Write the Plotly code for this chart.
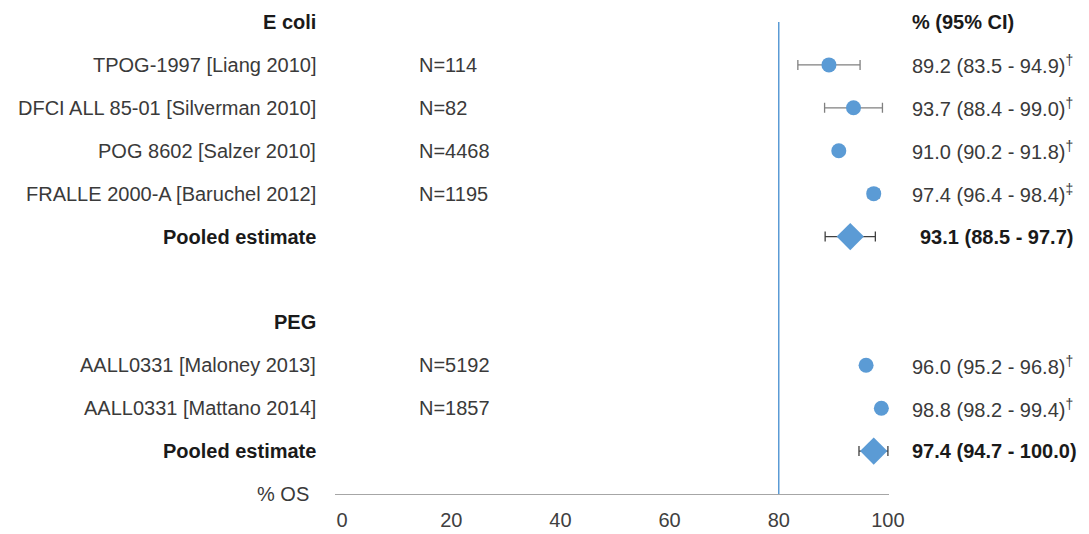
import plotly.graph_objects as go

# ---- data ----
groups = ["E coli", "PEG"]
studies = ["TPOG-1997 [Liang 2010]", "DFCI ALL 85-01 [Silverman 2010]",
           "POG 8602 [Salzer 2010]", "FRALLE 2000-A [Baruchel 2012]",
           "AALL0331 [Maloney 2013]", "AALL0331 [Mattano 2014]"]
study_group = [0, 0, 0, 0, 1, 1]
n_patients = [114, 82, 4468, 1195, 5192, 1857]
est = [89.2, 93.7, 91.0, 97.4, 96.0, 98.8]
lo = [83.5, 88.4, 90.2, 96.4, 95.2, 98.2]
hi = [94.9, 99.0, 91.8, 98.4, 96.8, 99.4]
marks = ["†", "†", "†", "‡", "†", "†"]
pooled_est = [93.1, 97.4]
pooled_lo = [88.5, 94.7]
pooled_hi = [97.7, 100.0]
ref_value = 80
x_ticks = [0, 20, 40, 60, 80, 100]
axis_title = "% OS"
ci_header = "% (95% CI)"
pooled_label = "Pooled estimate"

# ---- layout of rows ----
header_rows, study_rows, pooled_rows = [], [], []
r = 0
for g in range(len(groups)):
    header_rows.append(r)
    r += 1
    for i, sg in enumerate(study_group):
        if sg == g:
            study_rows.append(r)
            r += 1
    pooled_rows.append(r)
    r += 2
axis_row = r - 1

BLUE = "#5b9bd5"
FONT = "Liberation Sans"
TXT = "#3a3a3a"
BOLD = "#1a1a1a"
FS = 20

fig = go.Figure()

fig.add_trace(go.Scatter(
    x=est, y=study_rows, mode="markers",
    marker=dict(color=BLUE, size=15, symbol="circle"),
    error_x=dict(type="data", symmetric=False,
                 array=[h - e for h, e in zip(hi, est)],
                 arrayminus=[e - l for e, l in zip(est, lo)],
                 color="#808080", thickness=1.3, width=5),
    cliponaxis=False, showlegend=False, hoverinfo="skip"))

fig.add_trace(go.Scatter(
    x=pooled_est, y=pooled_rows, mode="markers",
    marker=dict(color=BLUE, size=21, symbol="diamond"),
    error_x=dict(type="data", symmetric=False,
                 array=[h - e for h, e in zip(pooled_hi, pooled_est)],
                 arrayminus=[e - l for e, l in zip(pooled_est, pooled_lo)],
                 color="#404040", thickness=1.3, width=5),
    cliponaxis=False, showlegend=False, hoverinfo="skip"))

fig.add_shape(type="line", x0=ref_value, x1=ref_value, y0=0, y1=axis_row,
              xref="x", yref="y", line=dict(color=BLUE, width=1.5), layer="below")

ann = []
LX = (318 - 335) / 554
NX = (417 - 335) / 554
VX = (910 - 335) / 554

for g, hr in zip(groups, header_rows):
    ann.append(dict(x=LX, y=hr, xref="paper", yref="y", text=f"<b>{g}</b>",
                    xanchor="right", showarrow=False, font=dict(color=BOLD)))
ann.append(dict(x=VX, y=header_rows[0], xref="paper", yref="y", text=f"<b>{ci_header}</b>",
                xanchor="left", showarrow=False, font=dict(color=BOLD)))

for s, yr, nn, e, l, h, m in zip(studies, study_rows, n_patients, est, lo, hi, marks):
    ann.append(dict(x=LX, y=yr, xref="paper", yref="y", text=s,
                    xanchor="right", showarrow=False, font=dict(color=TXT)))
    ann.append(dict(x=NX, y=yr, xref="paper", yref="y", text=f"N={nn}",
                    xanchor="left", showarrow=False, font=dict(color=TXT)))
    ann.append(dict(x=VX, y=yr, xref="paper", yref="y",
                    text=f"{e:.1f} ({l:.1f} - {h:.1f})<sup>{m}</sup>",
                    xanchor="left", showarrow=False, font=dict(color=TXT)))

PX = [(918 - 335) / 554, (910 - 335) / 554]
for yr, e, l, h, px in zip(pooled_rows, pooled_est, pooled_lo, pooled_hi, PX):
    ann.append(dict(x=LX, y=yr, xref="paper", yref="y", text=f"<b>{pooled_label}</b>",
                    xanchor="right", showarrow=False, font=dict(color=BOLD)))
    ann.append(dict(x=px, y=yr, xref="paper", yref="y",
                    text=f"<b>{e:.1f} ({l:.1f} - {h:.1f})</b>",
                    xanchor="left", showarrow=False, font=dict(color=BOLD)))

ann.append(dict(x=(311 - 335) / 554, y=axis_row, xref="paper", yref="y", text=axis_title,
                xanchor="right", showarrow=False, font=dict(color=TXT)))

fig.update_layout(
    width=1089, height=534,
    margin=dict(l=335, r=200, t=22, b=40, autoexpand=False),
    paper_bgcolor="white", plot_bgcolor="white",
    font=dict(family=FONT, size=FS, color=TXT),
    annotations=ann,
    xaxis=dict(range=[-1.3, 100.2], tickvals=x_ticks, showgrid=False, zeroline=False,
               showline=True, linecolor="#a6a6a6", linewidth=1.2, ticks="",
               automargin=False,
               ticklabelstandoff=8, tickfont=dict(color="#404040", size=FS)),
    yaxis=dict(range=[axis_row, 0], showgrid=False, zeroline=False, showline=False,
               automargin=False,
               showticklabels=False, ticks=""),
)

fig.write_html("out.html")
